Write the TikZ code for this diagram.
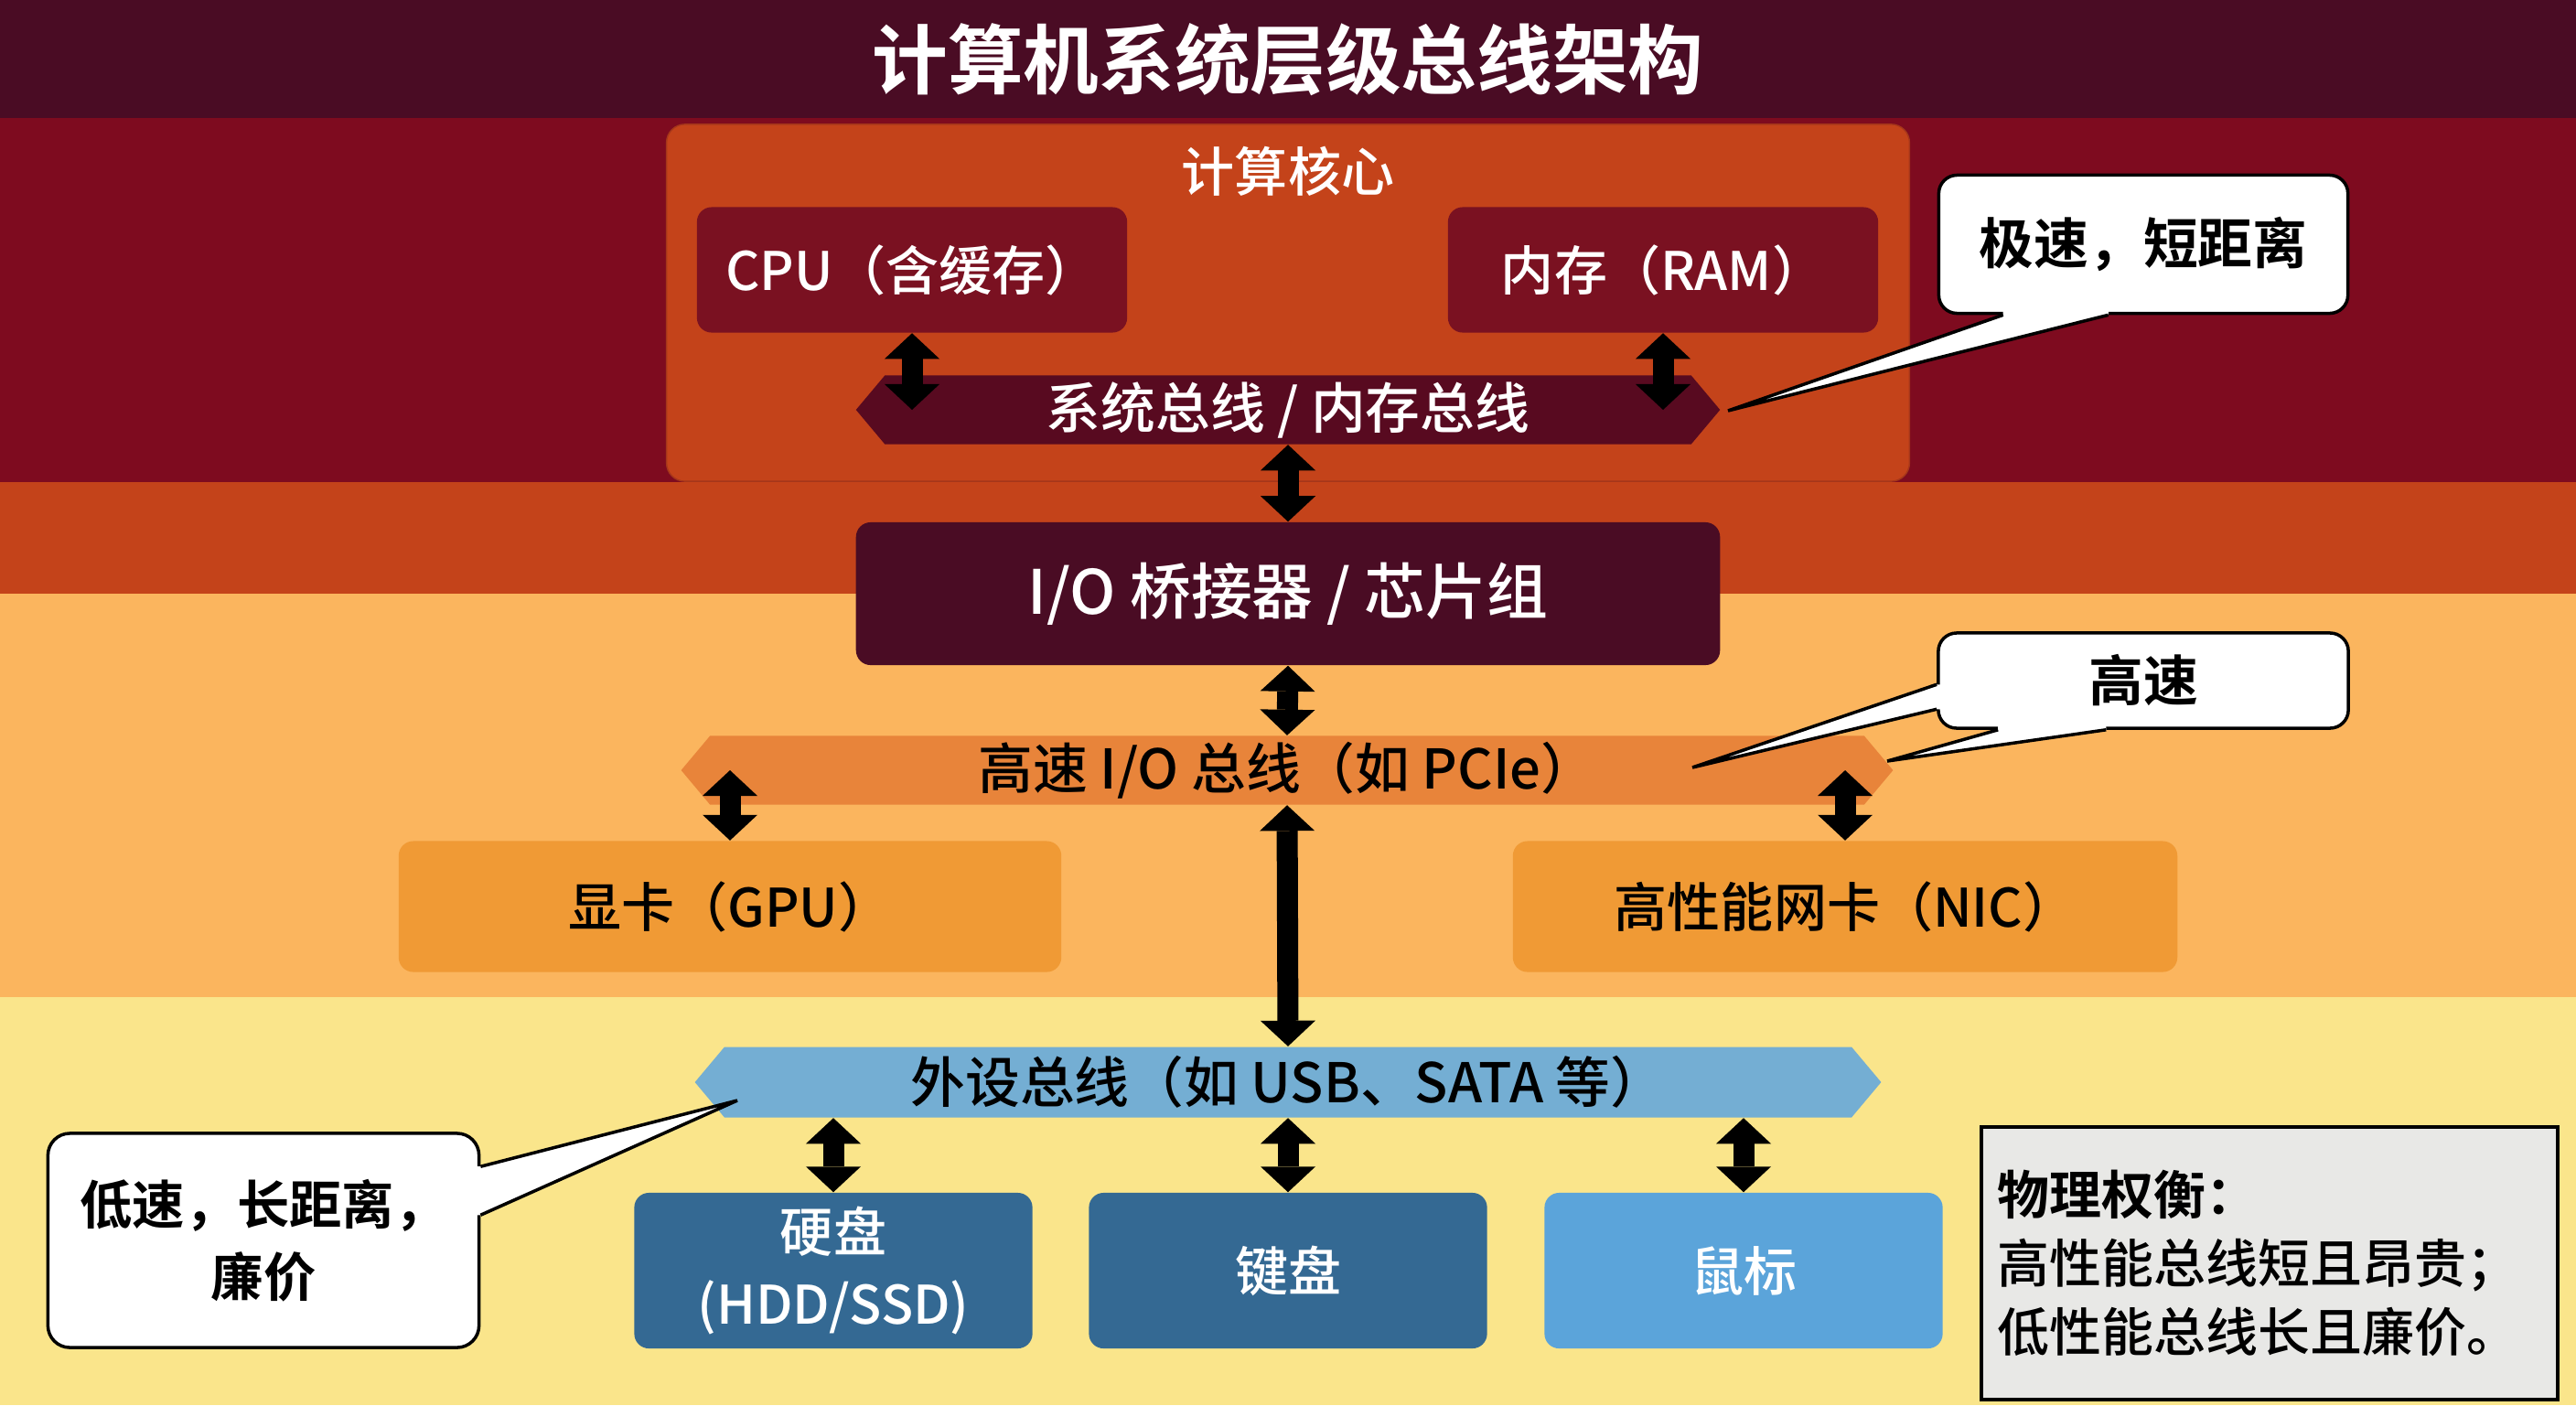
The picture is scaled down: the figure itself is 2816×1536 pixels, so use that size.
\documentclass[tikz,border=0pt]{standalone}
\usepackage{fontspec}
\setmainfont{Noto Sans CJK SC Medium}[BoldFont={Noto Sans CJK SC Bold}]
\usetikzlibrary{arrows.meta,shapes.symbols}

\definecolor{titlebg}{HTML}{4A0C24}
\definecolor{coreband}{HTML}{7E0B1F}
\definecolor{bridgeband}{HTML}{C4431A}
\definecolor{coreedge}{HTML}{A5361A}
\definecolor{fastband}{HTML}{FBB55E}
\definecolor{slowband}{HTML}{FAE58B}
\definecolor{unitred}{HTML}{7A1121}
\definecolor{sysbuscol}{HTML}{580A20}
\definecolor{pciecol}{HTML}{E8843A}
\definecolor{cardcol}{HTML}{F09A35}
\definecolor{periphcol}{HTML}{74AED3}
\definecolor{devdark}{HTML}{346993}
\definecolor{devlight}{HTML}{5BA4DA}
\definecolor{notegray}{HTML}{E8E8E6}

\newcommand{\titlesize}{\fontsize{23.5}{28}\selectfont}
\newcommand{\bodysize}{\fontsize{16.5}{22.5}\selectfont}
\newcommand{\bussize}{\fontsize{17}{20}\selectfont}

\tikzset{
  pix/.style={x=0.01cm,y=-0.01cm},
  unit/.style={rounded corners=0.16cm,inner sep=0pt,font=\bodysize,align=center},
  busbar/.style={signal,signal to=west and east,signal pointer angle=100,
    inner sep=0pt,minimum height=0.75cm,font=\bussize},
  link/.style={line width=0.23cm,
    {Triangle[width=0.6cm,length=0.28cm,line width=0pt]}-{Triangle[width=0.6cm,length=0.28cm,line width=0pt]}},
  bubble/.style={draw=black,fill=white,line width=1pt,rounded corners=0.2cm,
    inner sep=0pt,align=center,font=\bussize\bfseries},
  tailfill/.style={fill=white},
  tailline/.style={draw=black,line width=1pt,line join=miter}
}

\begin{document}
\begin{tikzpicture}[pix]
  \useasboundingbox (0,0) rectangle (2816,1536);
  % layer bands
  \fill[titlebg] (0,0) rectangle (2816,129);
  \fill[coreband] (0,129) rectangle (2816,527);
  \fill[bridgeband] (0,527) rectangle (2816,649);
  \fill[fastband] (0,649) rectangle (2816,1090);
  \fill[slowband] (0,1090) rectangle (2816,1536);

  \node[font=\titlesize\bfseries,text=white] (title) at (1408,65) {计算机系统层级总线架构};

  % compute core
  \node[draw=coreedge,fill=bridgeband,rounded corners=0.2cm,
    minimum width=13.58cm,minimum height=3.9cm] (core) at (1408,331) {};
  \node[font=\bodysize,text=white] (corelabel) at (1408,187) {计算核心};
  \node[unit,fill=unitred,text=white,minimum width=4.7cm,minimum height=1.37cm] (cpu) at (997,295) {CPU（含缓存）};
  \node[unit,fill=unitred,text=white,minimum width=4.7cm,minimum height=1.37cm] (ram) at (1818,295) {内存（RAM）};
  \node[busbar,fill=sysbuscol,text=white,minimum width=9.44cm] (sysbus) at (1408,448) {系统总线 / 内存总线};

  % bridge and high speed bus
  \node[unit,fill=titlebg,text=white,font=\fontsize{19}{22}\selectfont,
    minimum width=9.44cm,minimum height=1.56cm] (bridge) at (1408,649) {I/O 桥接器 / 芯片组};
  \node[busbar,fill=pciecol,minimum width=13.24cm] (pcie) at (1407,842) {高速 I/O 总线（如 PCIe）};
  \node[unit,fill=cardcol,minimum width=7.24cm,minimum height=1.43cm] (gpu) at (798,991) {显卡（GPU）};
  \node[unit,fill=cardcol,minimum width=7.26cm,minimum height=1.43cm] (nic) at (2017,991) {高性能网卡（NIC）};

  % peripheral bus
  \node[busbar,fill=periphcol,minimum width=12.96cm,minimum height=0.77cm] (periph) at (1408,1183) {外设总线（如 USB、SATA 等）};
  \node[unit,fill=devdark,text=white,minimum width=4.35cm,minimum height=1.7cm] (hdd) at (911,1389) {硬盘\\(HDD/SSD)};
  \node[unit,fill=devdark,text=white,minimum width=4.35cm,minimum height=1.7cm] (kbd) at (1408,1389) {键盘};
  \node[unit,fill=devlight,text=white,minimum width=4.35cm,minimum height=1.7cm] (mouse) at (1906,1389) {鼠标};

  % links
  \draw[link] (cpu.south) -- (cpu.south |- sysbus.center);
  \draw[link] (ram.south) -- (ram.south |- sysbus.center);
  \draw[link] (sysbus.south) -- (bridge.north);
  \draw[link] (bridge.south) -- (pcie.north);
  \draw[link] (gpu.north |- pcie.center) -- (gpu.north);
  \draw[link] (nic.north |- pcie.center) -- (nic.north);
  \draw[link] (pcie.south) -- (periph.north);
  \draw[link] (hdd.north |- periph.south) -- (hdd.north);
  \draw[link] (kbd.north |- periph.south) -- (kbd.north);
  \draw[link] (mouse.north |- periph.south) -- (mouse.north);

  % callouts
  \node[bubble,minimum width=4.47cm,minimum height=1.51cm] (fastnote) at (2343,267) {极速，短距离};
  \coordinate (fasttip) at (1889,449);
  \fill[tailfill] ([xshift=0.72cm]fastnote.south west) -- (fasttip) -- ([xshift=1.87cm]fastnote.south west)
    -- ([xshift=1.87cm,yshift=0.06cm]fastnote.south west) -- ([xshift=0.72cm,yshift=0.06cm]fastnote.south west) -- cycle;
  \draw[tailline] ([xshift=0.72cm]fastnote.south west) -- (fasttip) -- ([xshift=1.87cm]fastnote.south west);

  \node[bubble,minimum width=4.48cm,minimum height=1.04cm] (speednote) at (2343,744) {高速};
  \coordinate (pcietip) at (1850,839);
  \coordinate (pcieend) at (2063,832);
  \fill[tailfill] ([yshift=-0.58cm]speednote.north west) -- (pcietip) -- ([yshift=-0.85cm]speednote.north west)
    -- ([xshift=0.06cm,yshift=-0.85cm]speednote.north west) -- ([xshift=0.06cm,yshift=-0.58cm]speednote.north west) -- cycle;
  \draw[tailline] ([yshift=-0.58cm]speednote.north west) -- (pcietip) -- ([yshift=-0.85cm]speednote.north west);
  \fill[tailfill] ([xshift=0.67cm]speednote.south west) -- (pcieend) -- ([xshift=1.85cm]speednote.south west)
    -- ([xshift=1.85cm,yshift=0.06cm]speednote.south west) -- ([xshift=0.67cm,yshift=0.06cm]speednote.south west) -- cycle;
  \draw[tailline] ([xshift=0.67cm]speednote.south west) -- (pcieend) -- ([xshift=1.85cm]speednote.south west);

  \node[bubble,font=\fontsize{16.3}{22.5}\selectfont\bfseries,rounded corners=0.24cm,
    minimum width=4.71cm,minimum height=2.34cm] (slownote) at (288,1356) {低速，长距离，\\廉价};
  \coordinate (periphtip) at (806,1203);
  \fill[tailfill] ([yshift=-0.38cm]slownote.north east) -- (periphtip) -- ([yshift=-0.91cm]slownote.north east)
    -- ([xshift=-0.06cm,yshift=-0.91cm]slownote.north east) -- ([xshift=-0.06cm,yshift=-0.38cm]slownote.north east) -- cycle;
  \draw[tailline] ([yshift=-0.38cm]slownote.north east) -- (periphtip) -- ([yshift=-0.91cm]slownote.north east);

  % trade-off note
  \node[draw=black,fill=notegray,line width=1pt,minimum width=6.3cm,minimum height=2.98cm,
    font=\fontsize{16.2}{21.3}\selectfont,align=left,text width=5.94cm] (tradeoff) at (2481,1381)
    {{\bfseries 物理权衡：}\\高性能总线短且昂贵；\\低性能总线长且廉价。};
\end{tikzpicture}
\end{document}
